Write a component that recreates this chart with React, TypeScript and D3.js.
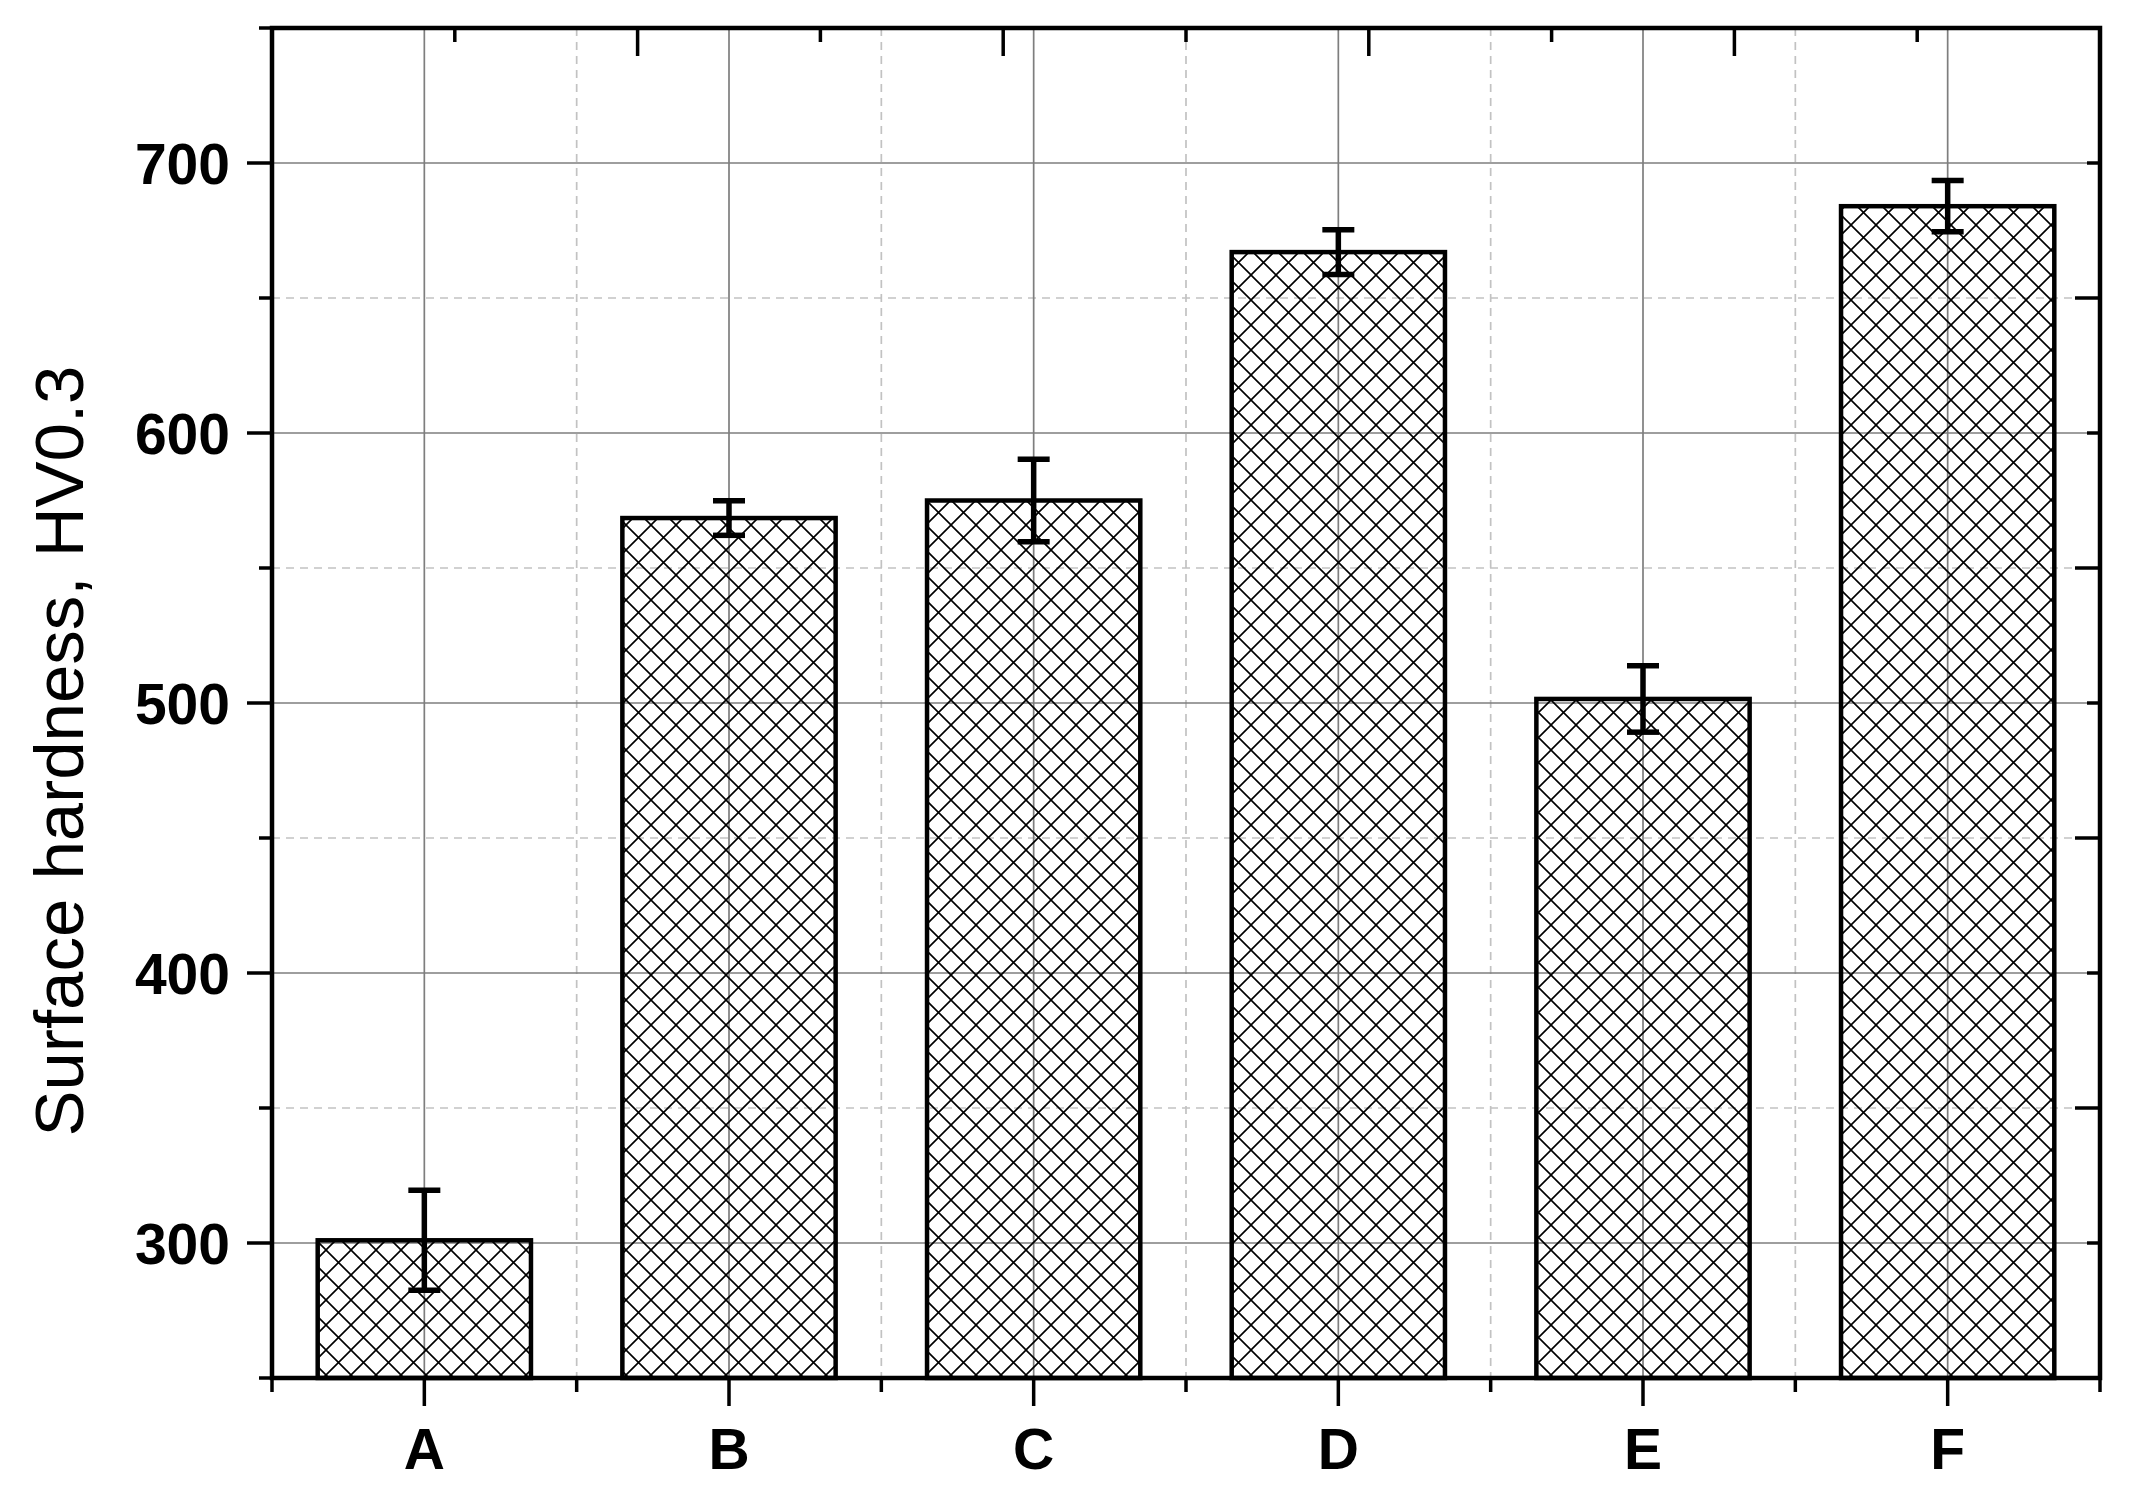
import React from 'react';
import { scaleBand, scaleLinear, range } from 'd3';

// chart data
const categories = ['A', 'B', 'C', 'D', 'E', 'F'];
const hardness = [301, 568.5, 575, 667, 501.5, 684];
const hardnessErr = [18.5, 6.4, 15.3, 8.3, 12.3, 9.5];
const yMajorTicks = [300, 400, 500, 600, 700];
const yMinorTicks = [250, 350, 450, 550, 650, 750];
const yTitle = 'Surface hardness, HV0.3';

export default function App() {
    const width = 2130;
    const height = 1497;
    const margin = { top: 28, right: 30, bottom: 119, left: 272 };
    const x0 = margin.left;
    const x1 = width - margin.right;
    const y0 = height - margin.bottom;
    const y1 = margin.top;

    const xScale = scaleBand<string>()
        .domain(categories)
        .range([x0, x1])
        .paddingInner(0.3)
        .paddingOuter(0.15);
    const step = xScale.step();
    const cx = (c: string) => (xScale(c) as number) + xScale.bandwidth() / 2;

    const yScale = scaleLinear().domain([250, 750]).range([y0, y1]);

    // top axis is an independent linear axis (0..5) like the original software draws
    const topScale = scaleLinear().domain([0, 5]).range([x0, x1]);
    const topMajor = range(0, 6);
    const topMinor = range(0.5, 5, 1);

    const xMinor = range(0, categories.length + 1).map(i => cx(categories[0]) - step / 2 + i * step);

    const font = '"Liberation Sans", Arial, Helvetica, sans-serif';
    const gridMajor = '#7e7e7e';
    const gridMinor = '#c2c2c2';

    return (
        <div style={{ position: 'absolute', left: 0, top: 0 }}>
            <svg width={width} height={height} style={{ display: 'block', background: '#fff' }}>
                <defs>
                    <pattern id="xhatch" patternUnits="userSpaceOnUse" width={25} height={25} x={x0 + 4} y={0}>
                        <path d="M-3,-3 L28,28 M28,-3 L-3,28" stroke="#000" strokeWidth={1.6} fill="none" />
                    </pattern>
                </defs>

                {/* minor grid */}
                {yMinorTicks.filter(t => t > 250 && t < 750).map(t => (
                    <line key={'hm' + t} x1={x0} x2={x1} y1={yScale(t)} y2={yScale(t)}
                        stroke={gridMinor} strokeWidth={1.7} strokeDasharray="8,6" />
                ))}
                {xMinor.slice(1, -1).map(x => (
                    <line key={'vm' + x} x1={x} x2={x} y1={y1} y2={y0}
                        stroke={gridMinor} strokeWidth={1.7} strokeDasharray="8,6" />
                ))}

                {/* major grid */}
                {yMajorTicks.map(t => (
                    <line key={'hg' + t} x1={x0} x2={x1} y1={yScale(t)} y2={yScale(t)}
                        stroke={gridMajor} strokeWidth={1.7} />
                ))}
                {categories.map(c => (
                    <line key={'vg' + c} x1={cx(c)} x2={cx(c)} y1={y1} y2={y0}
                        stroke={gridMajor} strokeWidth={1.7} />
                ))}

                {/* bars */}
                {categories.map((c, i) => (
                    <rect
                        key={c}
                        x={xScale(c)}
                        y={yScale(hardness[i])}
                        width={xScale.bandwidth()}
                        height={y0 - yScale(hardness[i])}
                        fill="url(#xhatch)"
                        stroke="#000"
                        strokeWidth={4.5}
                    />
                ))}

                {/* error bars */}
                {categories.map((c, i) => {
                    const top = yScale(hardness[i] + hardnessErr[i]);
                    const bot = yScale(hardness[i] - hardnessErr[i]);
                    const x = cx(c);
                    return (
                        <g key={'err' + c} stroke="#000" strokeWidth={5.5}>
                            <line x1={x} x2={x} y1={top} y2={bot} />
                            <line x1={x - 16} x2={x + 16} y1={top} y2={top} />
                            <line x1={x - 16} x2={x + 16} y1={bot} y2={bot} />
                        </g>
                    );
                })}

                {/* axis frame */}
                <rect x={x0} y={y1} width={x1 - x0} height={y0 - y1} fill="none" stroke="#000" strokeWidth={4.5} />

                {/* left ticks (outward) */}
                {yMajorTicks.map(t => (
                    <line key={'lt' + t} x1={x0 - 25} x2={x0} y1={yScale(t)} y2={yScale(t)} stroke="#000" strokeWidth={3.5} />
                ))}
                {yMinorTicks.map(t => (
                    <line key={'ltm' + t} x1={x0 - 13} x2={x0} y1={yScale(t)} y2={yScale(t)} stroke="#000" strokeWidth={3.5} />
                ))}

                {/* right ticks (inward, offset) */}
                {yMajorTicks.map(t => (
                    <line key={'rt' + t} x1={x1 - 13} x2={x1} y1={yScale(t)} y2={yScale(t)} stroke="#000" strokeWidth={3.5} />
                ))}
                {yMinorTicks.filter(t => t > 250 && t < 750).map(t => (
                    <line key={'rtm' + t} x1={x1 - 25} x2={x1} y1={yScale(t)} y2={yScale(t)} stroke="#000" strokeWidth={3.5} />
                ))}

                {/* bottom ticks (outward) */}
                {categories.map(c => (
                    <line key={'bt' + c} x1={cx(c)} x2={cx(c)} y1={y0} y2={y0 + 28} stroke="#000" strokeWidth={3.5} />
                ))}
                {xMinor.map(x => (
                    <line key={'btm' + x} x1={x} x2={x} y1={y0} y2={y0 + 14} stroke="#000" strokeWidth={3.5} />
                ))}

                {/* top ticks (inward) */}
                {topMajor.map(t => (
                    <line key={'tt' + t} x1={topScale(t)} x2={topScale(t)} y1={y1} y2={y1 + 28} stroke="#000" strokeWidth={3.5} />
                ))}
                {topMinor.map(t => (
                    <line key={'ttm' + t} x1={topScale(t)} x2={topScale(t)} y1={y1} y2={y1 + 14} stroke="#000" strokeWidth={3.5} />
                ))}

                {/* y tick labels */}
                {yMajorTicks.map(t => (
                    <text key={'yl' + t} x={x0 - 42} y={yScale(t)} dy="0.36em" textAnchor="end"
                        fontFamily={font} fontWeight="bold" fontSize={57} fill="#000">
                        {t}
                    </text>
                ))}

                {/* x tick labels */}
                {categories.map(c => (
                    <text key={'xl' + c} x={cx(c)} y={1469} textAnchor="middle"
                        fontFamily={font} fontWeight="bold" fontSize={57} fill="#000">
                        {c}
                    </text>
                ))}

                {/* y axis title */}
                <text x={83} y={751} textAnchor="middle" fontFamily={font} fontSize={69} fill="#000"
                    transform="rotate(-90, 83, 751)">
                    {yTitle}
                </text>
            </svg>
        </div>
    );
}
